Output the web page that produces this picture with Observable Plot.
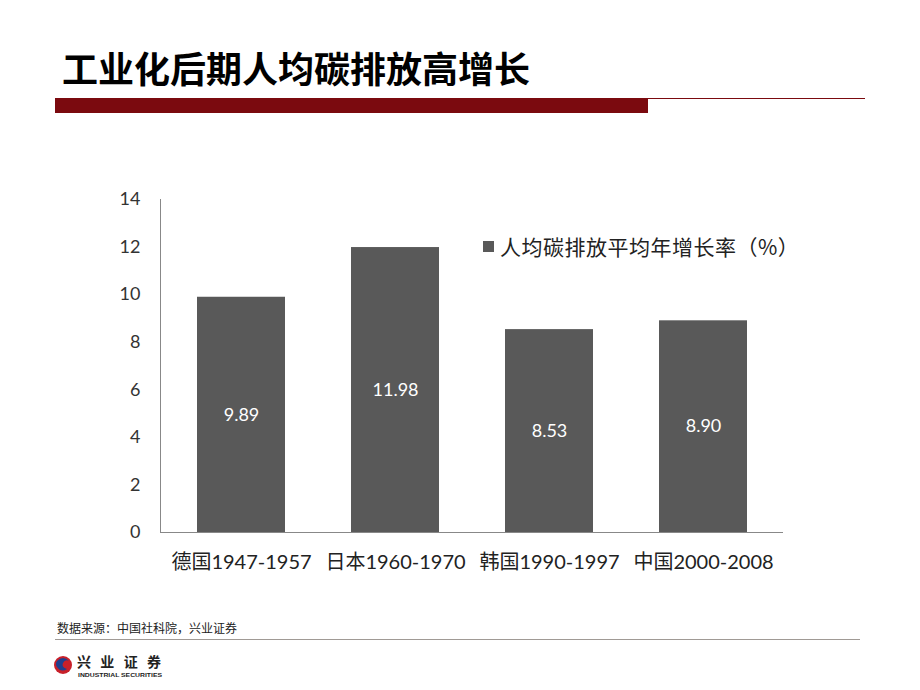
<!DOCTYPE html>
<html><head><meta charset="utf-8">
<script src="https://cdn.jsdelivr.net/npm/d3@7"></script>
<script src="https://cdn.jsdelivr.net/npm/@observablehq/plot@0.6"></script>
<style>
body{margin:0;background:#fff;}
#page{position:relative;width:920px;height:690px;overflow:hidden;font-family:"Noto Sans CJK SC",sans-serif;}
#title{position:absolute;left:62px;top:41px;font-size:36px;font-weight:bold;color:#000;letter-spacing:0px;white-space:nowrap;}
#redbar{position:absolute;left:55px;top:99px;width:593px;height:14px;background:#7b0a0f;}
#thin{position:absolute;left:55px;top:98px;width:810px;height:1px;background:#7b0a0f;}
#chart{position:absolute;left:0;top:0;}
#legend{position:absolute;left:483px;top:231px;font-size:21px;letter-spacing:0.5px;color:#222;display:flex;align-items:center;white-space:nowrap;}
#legend span.sw{display:inline-block;width:11px;height:11px;background:#595959;margin-right:6px;}
#source{position:absolute;left:57px;top:619px;font-size:12px;color:#222;white-space:nowrap;}
#srcline{position:absolute;left:55px;top:639px;width:805px;height:1px;background:#a09a95;}
#logo{position:absolute;left:52px;top:652px;overflow:visible;}
</style></head>
<body><div id="page">
<div id="title">工业化后期人均碳排放高增长</div>
<div id="thin"></div>
<div id="redbar"></div>
<div id="chart"></div>
<div id="legend"><span class="sw"></span>人均碳排放平均年增长率（%）</div>
<div id="source">数据来源：中国社科院，兴业证券</div>
<div id="srcline"></div>
<svg id="logo" width="170" height="34">
  <circle cx="11" cy="13" r="9" fill="#c8202a"/>
  <path d="M5 9 Q11 3 17 9 Q13 7 11 11 Q9 15 15 17 Q9 21 5 15 Q3 12 5 9Z" fill="#1f3f8f"/>
  <text x="25" y="15" font-size="14" font-weight="bold" fill="#222" font-family="Noto Sans CJK SC" textLength="84">兴业证券</text>
  <text x="26" y="25" font-size="6" font-weight="bold" fill="#222" font-family="Liberation Sans" textLength="84" lengthAdjust="spacingAndGlyphs">INDUSTRIAL SECURITIES</text>
</svg>
</div>
<script>
const categories = ["德国1947-1957", "日本1960-1970", "韩国1990-1997", "中国2000-2008"];
const values = [9.89, 11.98, 8.53, 8.90];
const valueLabels = ["9.89", "11.98", "8.53", "8.90"];
const yTicks = [0, 2, 4, 6, 8, 10, 12, 14];

const data = categories.map((c, i) => ({cat: c, v: values[i], label: valueLabels[i]}));

const chart = Plot.plot({
  width: 920,
  height: 580,
  marginLeft: 160,
  marginRight: 137,
  marginTop: 199,
  marginBottom: 48,
  style: {fontFamily: "Lato, 'Noto Sans CJK SC', sans-serif", background: "transparent", color: "#333"},
  x: {domain: categories, paddingInner: 0.43, paddingOuter: 0.226, label: null},
  y: {domain: [0, 14], label: null},
  marks: [
    Plot.barY(data, {x: "cat", y: "v", fill: "#595959"}),
    Plot.text(data, {x: "cat", y: d => d.v / 2, text: "label", fill: "white", fontSize: 18}),
    Plot.ruleY([0], {stroke: "#888"}),
    Plot.axisY({ticks: yTicks, tickSize: 0, tickPadding: 20, fontSize: 18, label: null, fill: "#333"}),
    Plot.axisX({tickSize: 0, tickPadding: 22, fontSize: 20, label: null, fill: "#222"}),
    Plot.frame({anchor: "left", stroke: "#888"})
  ]
});
document.getElementById("chart").appendChild(chart);
</script>
</body></html>
